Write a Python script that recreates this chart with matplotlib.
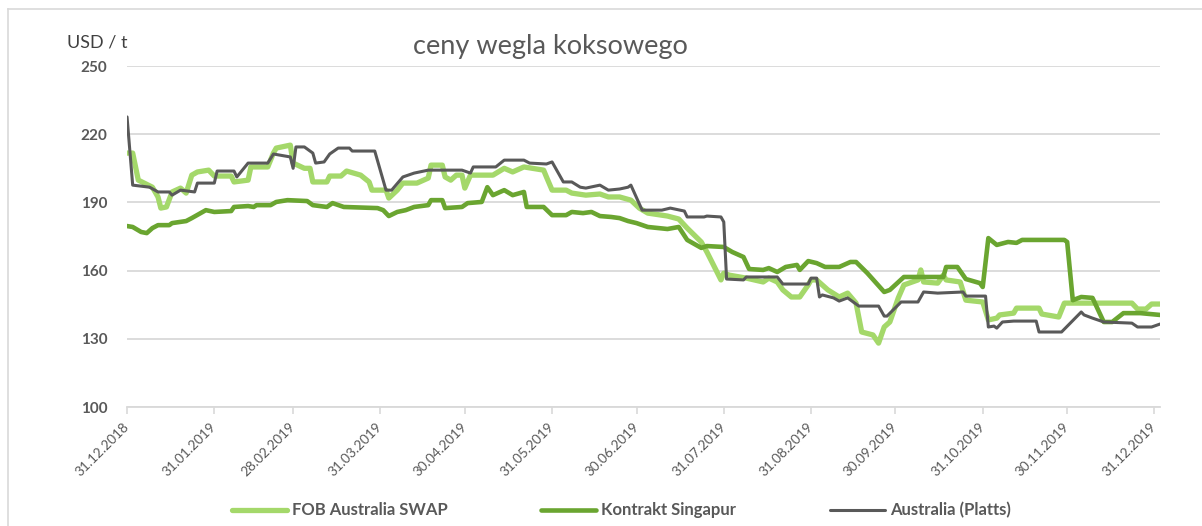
import numpy as np
import matplotlib.pyplot as plt
from matplotlib.lines import Line2D

plt.rcParams['font.family'] = ['Lato', 'DejaVu Sans']

# days counted from 31.12.2018
fob_days = [0, 2, 4, 9, 11, 12, 14, 16, 19, 21, 23, 25, 29, 31, 37, 38, 43, 44, 50, 52, 53, 58, 59, 63,
            65, 66, 71, 72, 76, 78, 83, 86, 87, 92, 93, 96, 98, 103, 107, 108, 112, 113, 115, 117, 119,
            120, 122, 130, 134, 137, 141, 148, 149, 151, 156, 158, 163, 168, 171, 175, 179, 182, 185,
            192, 196, 199, 204, 206, 208, 211, 212, 214, 220, 226, 228, 231, 233, 236, 239, 242, 243,
            245, 249, 253, 256, 259, 261, 265, 267, 269, 271, 274, 276, 281, 282, 283, 288, 290, 291,
            296, 298, 304, 306, 309, 310, 315, 316, 324, 325, 331, 333, 357, 359, 362, 364, 367]
fob_vals = [211.7, 211.7, 199.8, 196.7, 192.4, 187.5, 188, 194.6, 196.3, 194.1, 202, 203.4, 204.2,
            201.6, 201.6, 199, 199.8, 205.6, 205.6, 211.7, 213.9, 215.2, 207.3, 205, 205, 199, 199,
            201.6, 201.6, 203.8, 202, 199, 195.4, 195.4, 191.9, 195.4, 198.5, 198.5, 200.7, 206.4,
            206.4, 201.2, 199.8, 202, 202, 196.3, 202, 202, 205, 203.4, 205.6, 204.2, 201.2, 195.4,
            195.4, 194.1, 193.2, 193.7, 192.4, 192.4, 191, 187.5, 185.3, 184, 182.7, 178.7, 172.6,
            168.2, 163.3, 155.9, 158.9, 158, 156.7, 155, 156.7, 155, 151.5, 148.4, 148.4, 153.7,
            155.9, 155.9, 151.5, 148.4, 150.1, 145.7, 133, 131.7, 128.1, 135.2, 137.4, 148, 153.7,
            155.9, 160.3, 155, 154.5, 158, 155.9, 155, 147, 146.2, 138.3, 139.1, 140.5, 141.3, 143.5,
            143.5, 140.9, 139.6, 145.7, 145.7, 143.1, 143.1, 145.3, 145.3]

sing_days = [0, 2, 5, 7, 9, 11, 15, 16, 21, 23, 28, 31, 37, 38, 43, 45, 46, 51, 53, 57, 64, 66, 71, 73,
             77, 89, 91, 93, 96, 99, 102, 107, 108, 112, 113, 119, 121, 126, 128, 130, 134, 137, 141,
             142, 148, 151, 156, 158, 162, 165, 168, 172, 175, 178, 181, 185, 192, 196, 199, 204, 206,
             212, 215, 219, 221, 226, 228, 231, 234, 238, 239, 242, 245, 248, 253, 257, 259, 263, 269,
             271, 276, 282, 290, 291, 295, 298, 303, 304, 306, 309, 313, 316, 318, 333, 334, 336, 339,
             343, 347, 350, 354, 360, 367]
sing_vals = [179.6, 179.2, 177, 176.5, 178.7, 180, 180, 180.9, 181.8, 183.1, 186.6, 185.8, 186.2, 188,
             188.4, 188, 188.8, 188.8, 190.2, 191, 190.6, 188.8, 188, 189.7, 188, 187.5, 186.6, 184,
             185.8, 186.6, 188, 188.8, 191, 191, 187.5, 188, 189.7, 190.2, 196.7, 193.2, 195.4, 193.2,
             194.6, 188, 188, 184.4, 184.4, 185.8, 185.3, 185.8, 184, 183.6, 183.1, 181.8, 180.9,
             179.2, 178.3, 179.2, 173.5, 170, 170.8, 170.4, 168.2, 166, 160.7, 160.3, 161.1, 159.4,
             161.6, 162.5, 160.3, 164.2, 163.3, 161.6, 161.6, 163.8, 163.8, 158.9, 150.6, 151.5, 157.2,
             157.2, 157.2, 161.6, 161.6, 156.3, 154.5, 152.8, 174.3, 171.3, 172.6, 172.2, 173.5, 173.5,
             172.6, 147, 148.4, 148, 137.4, 137.4, 141.3, 141.3, 140.5]

platts_days = [0, 2, 8, 11, 15, 16, 19, 24, 25, 31, 32, 38, 39, 43, 50, 52, 58, 59, 60, 63, 66, 67, 70,
               72, 75, 79, 80, 88, 92, 94, 98, 102, 107, 119, 122, 123, 131, 134, 141, 143, 149, 151,
               155, 158, 161, 163, 168, 171, 175, 178, 179, 183, 190, 193, 198, 199, 205, 206, 211, 212,
               213, 219, 220, 231, 233, 242, 243, 245, 246, 247, 251, 253, 256, 260, 267, 269, 270, 275,
               281, 283, 288, 297, 298, 305, 306, 308, 309, 311, 315, 323, 324, 332, 339, 340, 343, 347,
               357, 359, 364, 367]
platts_vals = [227.6, 197.6, 196.7, 194.6, 194.6, 193.2, 195.4, 194.6, 198.5, 198.5, 203.8, 203.8,
               201.2, 207.3, 207.3, 211.3, 210, 205, 214.4, 214.4, 211.7, 207.3, 207.8, 211.3, 213.9,
               213.9, 212.6, 212.6, 195.4, 195.4, 201.2, 202.9, 204.2, 204.2, 202.9, 205.6, 205.6,
               208.6, 208.6, 207.3, 206.9, 207.8, 199, 199, 196.7, 196.3, 197.6, 195.4, 195.9, 196.7,
               197.6, 186.6, 186.6, 187.5, 186.2, 183.6, 183.6, 184, 183.6, 181.4, 156.3, 155.9, 157.2,
               157.2, 154.1, 154.1, 156.7, 156.7, 148.4, 149.3, 148, 146.6, 148, 144.4, 144.4, 140, 140,
               146.2, 146.2, 150.6, 150.1, 150.6, 148.8, 148.8, 135.2, 135.6, 134.7, 137.4, 137.8,
               137.8, 133, 133, 141.8, 140.5, 139.1, 137.4, 136.9, 135.2, 135.2, 136.5]

tick_labels = ['31.12.2018', '31.01.2019', '28.02.2019', '31.03.2019', '30.04.2019', '31.05.2019',
               '30.06.2019', '31.07.2019', '31.08.2019', '30.09.2019', '31.10.2019', '30.11.2019',
               '31.12.2019']
names = ['FOB Australia SWAP', 'Kontrakt Singapur', 'Australia (Platts)']

start = np.datetime64('2018-12-31')
def to_dates(days):
    return start + np.array(days).astype('timedelta64[D]')

fig = plt.figure(figsize=(12.02, 5.26), dpi=100)
ax = fig.add_axes([0.1057, 0.2262, 0.8594, 0.6483])

ax.plot(to_dates(fob_days), fob_vals, color='#a4d86a', lw=3.8, label=names[0], solid_capstyle='round')
ax.plot(to_dates(sing_days), sing_vals, color='#6aa530', lw=3.3, label=names[1], solid_capstyle='round')
ax.plot(to_dates(platts_days), platts_vals, color='#595959', lw=2.2, label=names[2], solid_capstyle='round')

ticks = [np.datetime64('-'.join(t.split('.')[::-1])) for t in tick_labels]
ax.set_xticks(ticks)
ax.set_xticklabels(tick_labels, rotation=45, ha='right', va='center', rotation_mode='anchor',
                   fontsize=9.8, color='#595959')
ax.set_xlim(start, start + np.timedelta64(367, 'D'))
ax.set_ylim(100, 250)
ax.set_yticks(np.arange(100, 251, 30))
for lab in ax.get_yticklabels():
    lab.set_fontweight('bold')
    lab.set_fontsize(11)
    lab.set_color('#595959')

ax.grid(axis='y', color='#d9d9d9', lw=1.3)
ax.set_axisbelow(True)
for s in ['top', 'right', 'left']:
    ax.spines[s].set_visible(False)
ax.spines['bottom'].set_color('#d9d9d9')
ax.spines['bottom'].set_linewidth(1.3)
ax.tick_params(axis='y', length=0, pad=14)
ax.tick_params(axis='x', length=5, color='#d9d9d9', width=1.2, pad=8)

fig.text(0.458, 0.912, 'ceny wegla koksowego', ha='center', va='center', fontsize=19.5, color='#595959')
fig.text(0.056, 0.92, 'USD / t', ha='left', va='center', fontsize=13, color='#404040')

fig.legend(loc='center', bbox_to_anchor=(0.517, 0.03), ncol=3, frameon=False, handlelength=3.3,
           handletextpad=0.3, columnspacing=5.6, prop={'weight': 'bold', 'size': 12},
           labelcolor='#595959')

fig.add_artist(Line2D([8 / 1202, 1], [1 - 9 / 526, 1 - 9 / 526], color='#d9d9d9', lw=1.2))
fig.add_artist(Line2D([8 / 1202, 8 / 1202], [0, 1 - 9 / 526], color='#d9d9d9', lw=1.2))

fig.savefig('out.png', dpi=100)
